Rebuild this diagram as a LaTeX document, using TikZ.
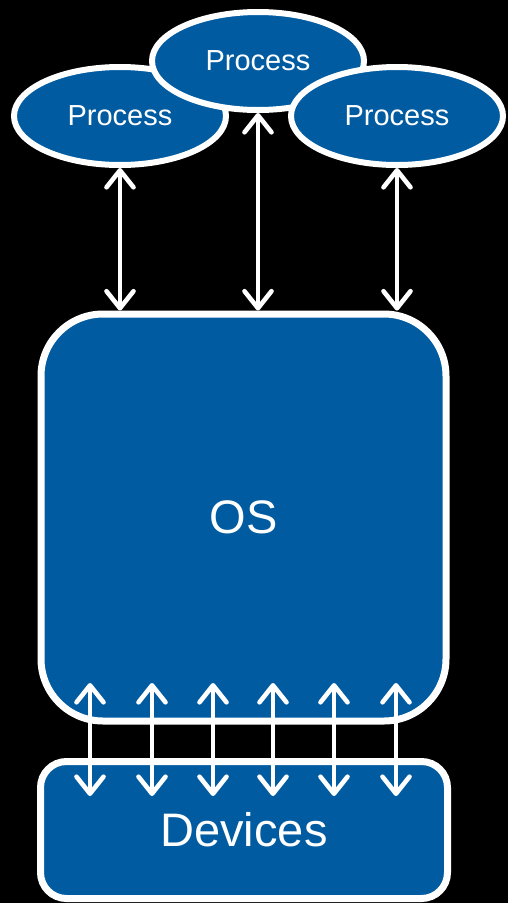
\documentclass[tikz,border=0pt]{standalone}
\usepackage{fontspec}
\setmainfont{Liberation Sans}
\usetikzlibrary{shapes.geometric,arrows.meta}
\definecolor{boxblue}{RGB}{0,91,161}
\begin{document}
\begin{tikzpicture}[x=1pt,y=-1pt,
  proc/.style={ellipse,draw=white,line width=6pt,fill=boxblue,minimum width=212pt,minimum height=98pt,inner sep=0pt,text=white,font=\fontsize{29}{29}\selectfont},
  bigbox/.style={rectangle,draw=white,line width=7pt,fill=boxblue,inner sep=0pt,text=white,font=\fontsize{47}{47}\selectfont},
  arr/.style={draw=white,line width=4.6pt,{Straight Barb[length=17pt,width=27pt,round]}-{Straight Barb[length=17pt,width=27pt,round]}}]
\fill[black] (0,0) rectangle (508,903);
\useasboundingbox (0,0) rectangle (508,903);
\node[proc] (p1) at (120,116) {Process};
\node[proc] (p2) at (258,61) {Process};
\node[proc] (p3) at (397,116) {Process};
\node[bigbox,rounded corners=62pt,minimum width=405pt,minimum height=407pt] (os) at (243.5,517.5) {OS};
\node[bigbox,rounded corners=26pt,minimum width=407pt,minimum height=137pt] (dev) at (244,830) {\raisebox{-2pt}{Devices}};
\draw[arr] (p1.south) -- (p1.south |- os.north);
\draw[arr] (p2.south) -- (p2.south |- os.north);
\draw[arr] (p3.south) -- (p3.south |- os.north);
\foreach \i/\x in {1/90,2/152,3/213,4/273,5/334,6/396}{
  \coordinate (t\i) at (\x,683);
  \coordinate (b\i) at (\x,796);
  \draw[arr] (t\i) -- (b\i);
}
\end{tikzpicture}
\end{document}
